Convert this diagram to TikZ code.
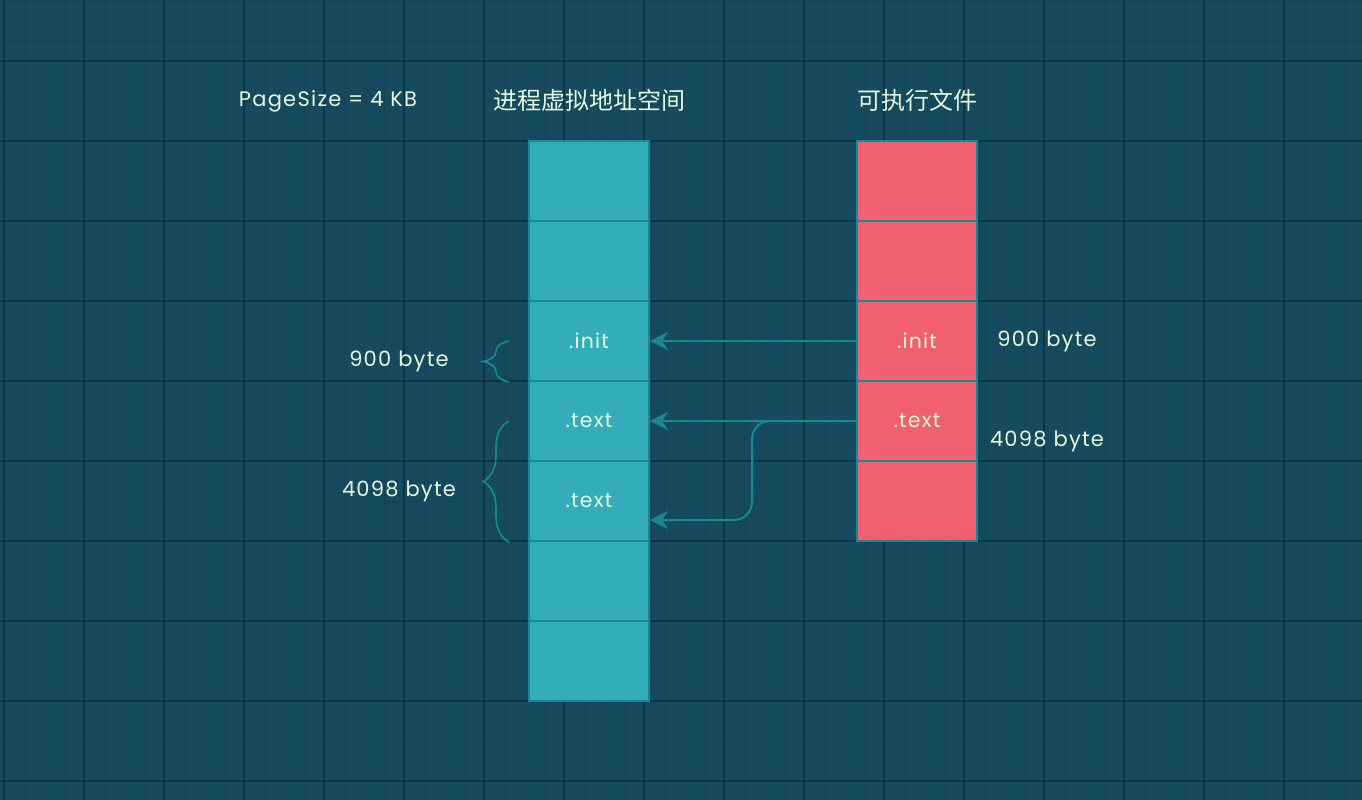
\documentclass[tikz,border=0pt]{standalone}
\usepackage{fontspec}
\setmainfont{Poppins}[LetterSpace=6]
\newfontfamily\cjk{Noto Sans CJK SC}
\usetikzlibrary{arrows.meta,decorations.pathreplacing,calc}
\definecolor{bgc}{HTML}{164A5E}
\definecolor{minorc}{HTML}{134458}
\definecolor{majorc}{HTML}{0E3546}
\definecolor{cellteal}{HTML}{32ADB9}
\definecolor{cellred}{HTML}{F0606E}
\definecolor{edgec}{HTML}{1B8896}
\definecolor{txtc}{HTML}{E4F8DE}
\tikzset{
  cellbase/.style={draw=edgec, line width=2pt, minimum width=120pt, minimum height=80pt, inner sep=0pt, text=txtc, font=\fontsize{20.5}{22}\selectfont},
  lcell/.style={cellbase, fill=cellteal},
  rcell/.style={cellbase, fill=cellred},
  lbl/.style={text=txtc, font=\fontsize{21}{24}\selectfont, inner sep=0pt},
  ttl/.style={text=txtc, font=\cjk\fontsize{24}{26}\selectfont, inner sep=0pt},
  arr/.style={draw=edgec, line width=2pt, -{Stealth[length=18pt,width=18pt,inset=6pt]}},
  brc/.style={draw=edgec, line width=1.6pt, decorate, decoration={brace, amplitude=26pt}},
}
\begin{document}
\begin{tikzpicture}[x=1pt,y=-1pt]
\useasboundingbox (0,0) rectangle (1362,800);
\fill[bgc] (0,0) rectangle (1362,800);
\foreach \x in {4,24,...,1364} \draw[minorc, line width=1pt] (\x,0) -- (\x,800);
\foreach \y in {1,21,...,801} \draw[minorc, line width=1pt] (0,\y) -- (1362,\y);
\foreach \x in {4,84,...,1364} \draw[majorc, line width=1.2pt] (\x,0) -- (\x,800);
\foreach \y in {61,141,...,801} \draw[majorc, line width=1.2pt] (0,\y) -- (1362,\y);

% left column: process virtual address space
\node[lcell] (L1) at (589,181) {};
\node[lcell] (L2) at (589,261) {};
\node[lcell] (L3) at (589,341) {.init};
\node[lcell] (L4) at (589,421) {.text};
\node[lcell] (L5) at (589,501) {.text};
\node[lcell] (L6) at (589,581) {};
\node[lcell] (L7) at (589,661) {};

% right column: executable file
\node[rcell] (R1) at (917,181) {};
\node[rcell] (R2) at (917,261) {};
\node[rcell] (R3) at (917,341) {.init};
\node[rcell] (R4) at (917,421) {.text};
\node[rcell] (R5) at (917,501) {};

% titles
\node[lbl] (ps) at (328,101) {PageSize = 4 KB};
\node[ttl] (t1) at (589,100) {进程虚拟地址空间};
\node[ttl] (t2) at (917,100) {可执行文件};

% right labels
\node[lbl] (r900) at (1047,341) {900 byte};
\node[lbl] (r4098) at (1047,441) {4098 byte};

% left labels
\node[lbl] (l900) at (399,361) {900 byte};
\node[lbl] (l4098) at (399,491) {4098 byte};

% braces
\coordinate (b1a) at ($(L3.south west)+(-19,0)$);
\coordinate (b1b) at ($(L3.west)+(-19,0)$);
\coordinate (b2a) at ($(L5.south west)+(-19,0)$);
\coordinate (b2b) at ($(L4.west)+(-19,0)$);
\draw[brc] (b1a) -- (b1b);
\draw[brc] (b2a) -- (b2b);

% arrows
\draw[arr] (R3.west) -- (L3.east);
\draw[arr] (R4.west) -- (L4.east);
\coordinate (bend) at ($(R4.west)+(-104,0)$);
\draw[arr, rounded corners=18pt] (R4.west) -- (bend) |- ([yshift=-19pt]L5.east);
\end{tikzpicture}
\end{document}
